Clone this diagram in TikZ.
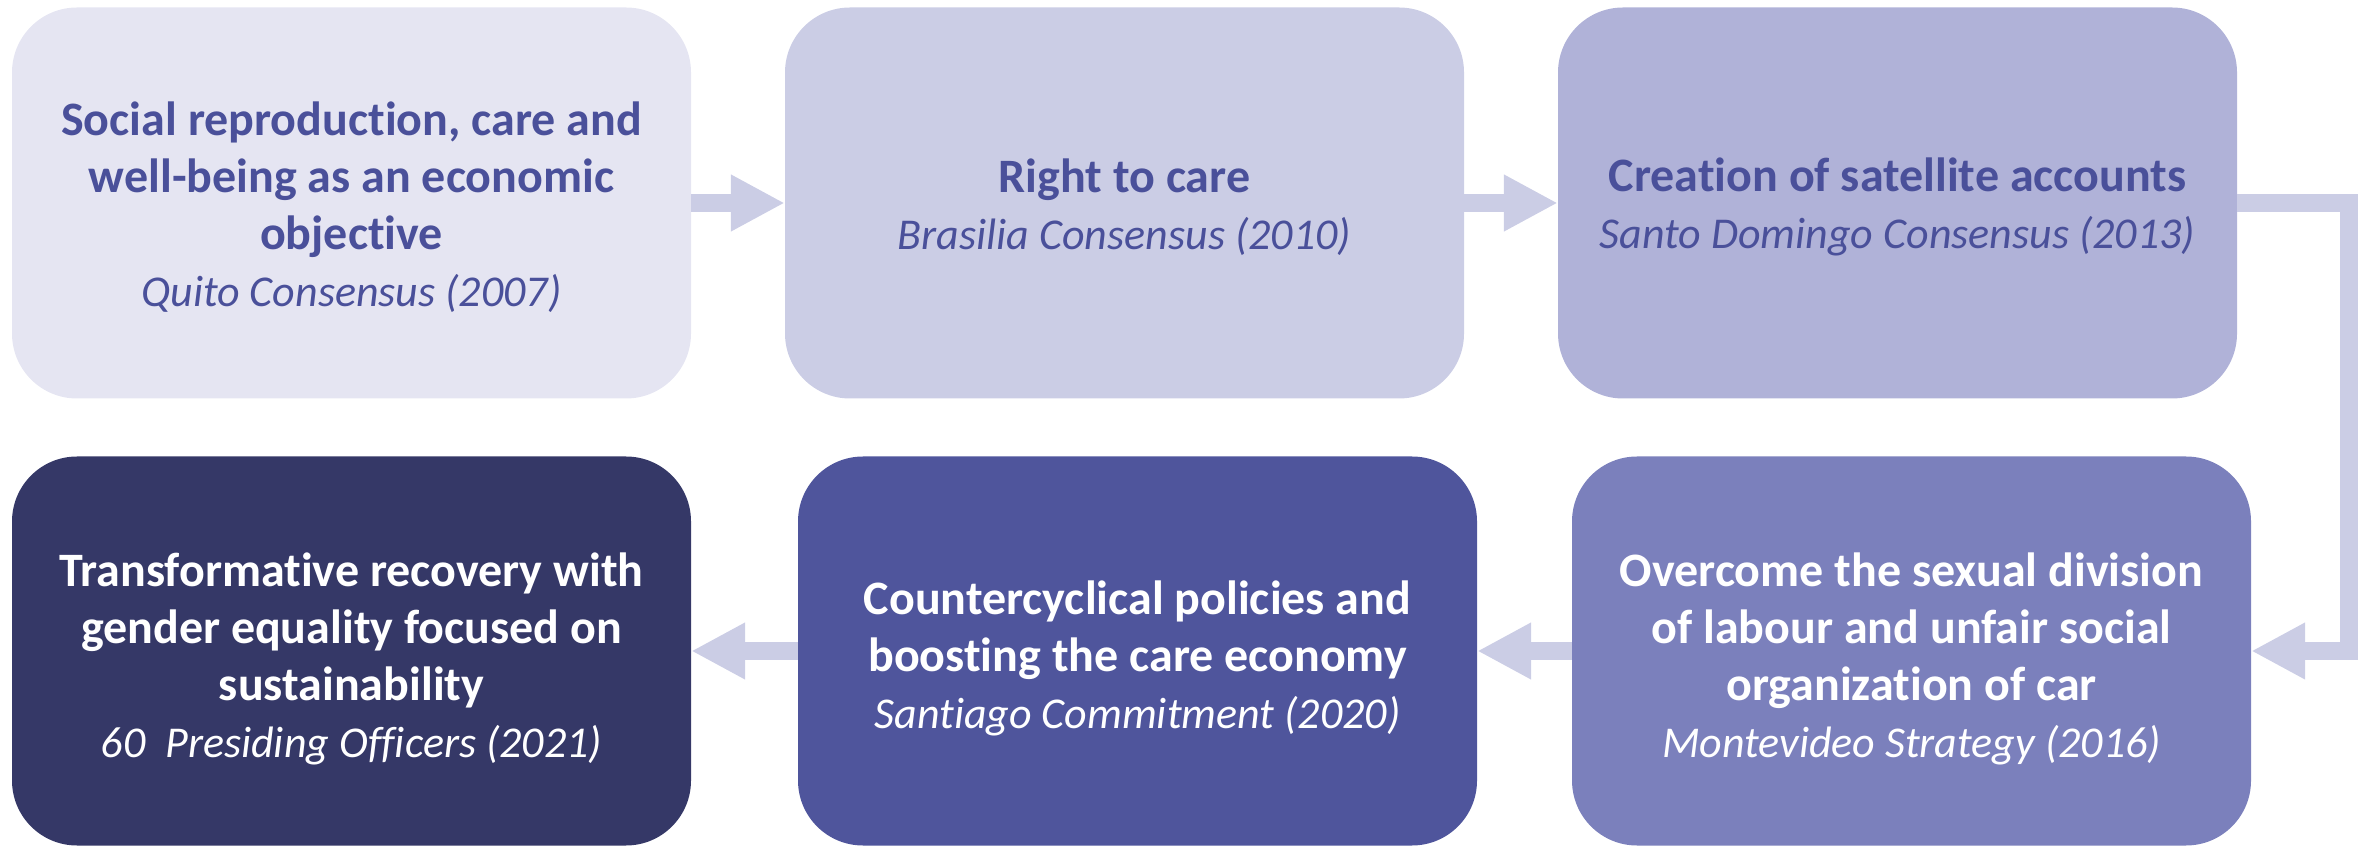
\documentclass[tikz,border=0pt]{standalone}
\usepackage{fontspec}
\setmainfont{Carlito}[Ligatures=NoCommon]
\usetikzlibrary{arrows.meta}
\definecolor{cA}{HTML}{E5E5F2}
\definecolor{cB}{HTML}{CBCDE5}
\definecolor{cC}{HTML}{B0B2D8}
\definecolor{cD}{HTML}{7B80BC}
\definecolor{cE}{HTML}{4F559C}
\definecolor{cF}{HTML}{353867}
\definecolor{txt}{HTML}{4A509A}
\definecolor{arr}{HTML}{CBCDE5}
\newcommand{\ttl}[1]{{\fontsize{48}{57}\selectfont\bfseries #1}}
\newcommand{\src}[1]{{\fontsize{44}{55}\selectfont\itshape #1}}
\tikzset{
  stage/.style={rectangle, rounded corners=65pt, minimum width=679pt, minimum height=391pt,
    inner sep=0pt},
  label text/.style={inner sep=0pt, align=center, font=\fontsize{48}{57}\selectfont},
  darktxt/.style={label text, text=txt},
  lighttxt/.style={label text, text=white},
  flow/.style={draw=arr, line width=18pt, line join=miter,
    -{Triangle[width=53pt,length=54pt]}}
}
\begin{document}
\begin{tikzpicture}[x=1pt,y=1pt]
\useasboundingbox (0,0) rectangle (2366,846);
% boxes
\node[stage, fill=cA] (b1) at (351.5,643) {};
\node[stage, fill=cB] (b2) at (1124.5,643) {};
\node[stage, fill=cC] (b3) at (1897.5,643) {};
\node[stage, fill=cD, minimum height=389pt] (b4) at (1911.5,195) {};
\node[stage, fill=cE, minimum height=389pt] (b5) at (1137.5,195) {};
\node[stage, fill=cF, minimum height=389pt] (b6) at (351.5,195) {};
% texts
\node[darktxt] (t1) at ([yshift=-4pt]b1.center) {\ttl{Social reproduction, care and}\\\ttl{well-being as an economic}\\\ttl{objective}\\\src{Quito Consensus (2007)}};
\node[darktxt] (t2) at ([yshift=-4pt]b2.center) {\ttl{Right to care}\\\src{Brasilia Consensus (2010)}};
\node[darktxt] (t3) at ([yshift=-4pt]b3.center) {\ttl{Creation of satellite accounts}\\\src{Santo Domingo Consensus (2013)}};
\node[lighttxt] (t4) at ([yshift=-8pt]b4.center) {\ttl{Overcome the sexual division}\\\ttl{of labour and unfair social}\\\ttl{organization of car}\\\src{Montevideo Strategy (2016)}};
\node[lighttxt] (t5) at ([yshift=-7pt]b5.center) {\ttl{Countercyclical policies and}\\\ttl{boosting the care economy}\\\src{Santiago Commitment (2020)}};
\node[lighttxt] (t6) at ([yshift=-8pt]b6.center) {\ttl{Transformative recovery with}\\\ttl{gender equality focused on}\\\ttl{sustainability}\\\src{60~~Presiding Officers (2021)}};
% connectors
\draw[flow] (b1.east) -- (b2.west);
\draw[flow] (b2.east) -- (b3.west);
\coordinate (bendtop) at (2349,643);
\draw[flow] (b3.east) -- (bendtop) |- (b4.east);
\draw[flow] (b4.west) -- (b5.east);
\draw[flow] (b5.west) -- (b6.east);
\end{tikzpicture}
\end{document}
